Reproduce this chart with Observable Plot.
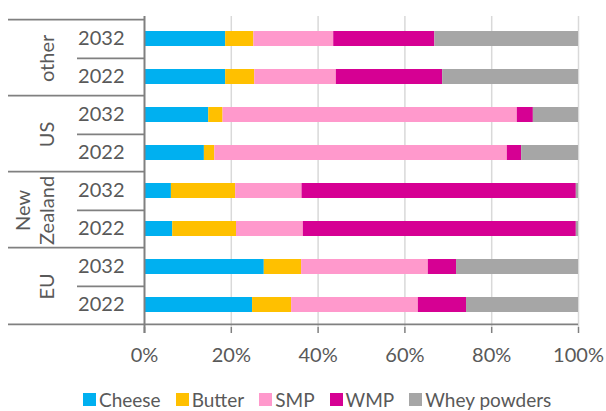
<!DOCTYPE html>
<html>
<head>
<meta charset="utf-8">
<script src="https://cdn.jsdelivr.net/npm/d3@7"></script>
<script src="https://cdn.jsdelivr.net/npm/@observablehq/plot@0.6"></script>
<style>
  body { margin: 0; background: #fff; font-family: "Lato", "Open Sans", sans-serif; font-weight: 400; }
  #legend { display: flex; align-items: center; padding-left: 83px; padding-top: 3px; height: 23px; color: #595959; font-size: 19px; line-height: 23px; }
  #legend .item { display: flex; align-items: center; margin-right: 15px; }
  #legend .sw { width: 13px; height: 13px; margin-right: 3px; }
</style>
</head>
<body>
<div id="chart"></div>
<div id="legend"></div>
<script>
// ---- data ----
const series = ["Cheese", "Butter", "SMP", "WMP", "Whey powders"];
const colors = ["#00b0f0", "#ffc000", "#ff99cc", "#d60093", "#a6a6a6"];
const regions = ["other", "US", "New Zealand", "EU"];
const regionLabels = ["other", "US", "New\nZealand", "EU"];
const years = ["2032", "2022"];
// values in % per row, rows ordered: other 2032, other 2022, US 2032, US 2022, NZ 2032, NZ 2022, EU 2032, EU 2022
const cheese = [18.7, 18.7, 14.8, 13.8, 6.2, 6.5, 27.6, 24.9];
const butter = [6.5, 6.7, 3.3, 2.4, 14.8, 14.7, 8.6, 9.0];
const smp    = [18.4, 18.8, 67.8, 67.4, 15.3, 15.4, 29.2, 29.2];
const wmp    = [23.3, 24.5, 3.7, 3.3, 63.2, 62.9, 6.5, 11.1];
const whey   = [33.1, 31.3, 10.4, 13.1, 0.5, 0.5, 28.1, 25.8];
const xTicks = [0, 20, 40, 60, 80, 100];

// ---- build table ----
const seriesValues = [cheese, butter, smp, wmp, whey];
const keys = [];
regions.forEach(r => years.forEach(y => keys.push(r + "|" + y)));
const rows = [];
keys.forEach((k, i) => series.forEach((s, j) => rows.push({key: k, series: s, value: seriesValues[j][i]})));
const topKeys = regions.map(r => r + "|" + years[0]);
const groupLabels = regions.map((r, i) => ({key: r + "|" + years[0], label: regionLabels[i]}));

// ---- layout ----
const W = 606, H = 385, mT = 16, mB = 58, mL = 144, mR = 28;
const step = (H - mT - mB) / keys.length;
const plotW = W - mL - mR;
const lineColor = "#808080";
const textColor = "#595959";

const chart = Plot.plot({
  width: W, height: H,
  marginTop: mT, marginBottom: mB, marginLeft: mL, marginRight: mR,
  style: {fontFamily: "Lato, 'Open Sans', sans-serif", fontWeight: 400, fontSize: "20px", color: textColor, background: "#fff"},
  x: {domain: [0, 100]},
  y: {domain: keys, paddingInner: 0.6, paddingOuter: 0.3},
  color: {domain: series, range: colors},
  marks: [
    Plot.ruleX(xTicks.slice(1), {stroke: "#d9d9d9", strokeWidth: 1.5}),
    Plot.barX(rows, Plot.stackX({y: "key", x: "value", fill: "series"})),
    Plot.ruleX([0], {stroke: lineColor, strokeWidth: 2, insetBottom: -6}),
    // bottom line
    Plot.ruleY([keys[keys.length - 1]], {y: d => d, dy: step / 2, insetLeft: -(mL - 8), stroke: lineColor, strokeWidth: 1.8}),
    // group boundaries
    Plot.ruleY(topKeys, {y: d => d, dy: -step / 2, insetLeft: -(mL - 8), insetRight: plotW, stroke: lineColor, strokeWidth: 1.8}),
    // year separators
    Plot.ruleY(topKeys, {y: d => d, dy: step / 2, insetLeft: -(mL - 77), insetRight: plotW, stroke: lineColor, strokeWidth: 1.8}),
    // group labels
    Plot.text(groupLabels, {y: "key", text: "label", frameAnchor: "left", dx: -(mL - 53.5), dy: step / 2,
      rotate: -90, textAnchor: "middle", lineAnchor: "bottom", lineHeight: 1.2, fontSize: 20, fill: textColor}),
    Plot.axisY({tickFormat: d => d.split("|")[1], tickSize: 0, tickPadding: 20, fontSize: 20, fill: textColor, label: null}),
    Plot.axisX({ticks: xTicks, tickFormat: d => d + "%", tickSize: 6, tickPadding: 14, fontSize: 20,
      stroke: lineColor, strokeWidth: 1.5, fill: textColor, label: null})
  ]
});
document.getElementById("chart").appendChild(chart);

const legend = document.getElementById("legend");
series.forEach((s, i) => {
  const item = document.createElement("div");
  item.className = "item";
  const sw = document.createElement("span");
  sw.className = "sw";
  sw.style.background = colors[i];
  const t = document.createElement("span");
  t.textContent = s;
  item.appendChild(sw); item.appendChild(t);
  legend.appendChild(item);
});
</script>
</body>
</html>
